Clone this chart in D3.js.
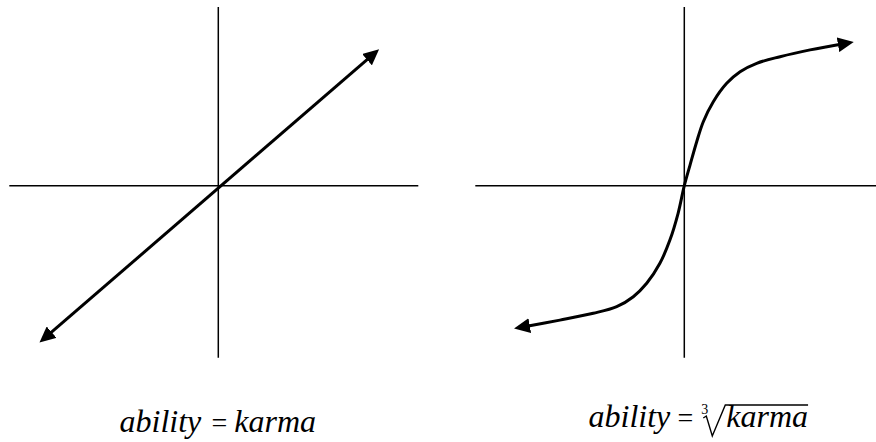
<!DOCTYPE html>
<html>
<head>
<meta charset="utf-8">
<script src="https://cdn.jsdelivr.net/npm/d3@7"></script>
<style>
  body { margin: 0; background: #fff; }
</style>
</head>
<body>
<svg></svg>
<script>
const size = {w: 876, h: 442};
const svg = d3.select('svg').attr('width', size.w).attr('height', size.h);

// axis extents, in plot units (20px per unit)
const axisXExtent = [[-10.45, 10], [-10.45, 9.6]];
const axisYExtent = [-8.6, 8.93];

// left panel: ability = karma (ends of the arrowed line)
const linearPts = [[-8.6, -7.55], [7.7, 6.53]];

// right panel: ability = cube root of karma
const cubePts = [
  [-8.07, -7.06], [-6.22, -6.72], [-4.55, -6.38], [-3.38, -6.05], [-2.55, -5.55],
  [-1.88, -4.88], [-1.22, -3.88], [-0.72, -2.72], [-0.31, -1.38], [0, 0],
  [0.29, 1.04], [0.62, 2.2], [0.95, 3.2], [1.45, 4.2], [2.12, 5.12],
  [2.79, 5.7], [3.62, 6.12], [4.79, 6.45], [6.29, 6.79], [8.03, 7.11]
];

const labels = [
  {lhs: 'ability', rhs: 'karma', root: null},
  {lhs: 'ability', rhs: 'karma', root: '3'}
];

const origins = [218.3, 684.3];
const originY = 185.7;
const unit = 20;
const serif = '"Liberation Serif", "Times New Roman", serif';

const y = d3.scaleLinear().domain([-10, 10]).range([originY + 10 * unit, originY - 10 * unit]);
const xs = origins.map(o => d3.scaleLinear().domain([-10, 10]).range([o - 10 * unit, o + 10 * unit]));

// arrow marker
svg.append('defs').append('marker')
    .attr('id', 'arrow')
    .attr('markerUnits', 'userSpaceOnUse')
    .attr('viewBox', '0 0 16 15')
    .attr('markerWidth', 16)
    .attr('markerHeight', 15)
    .attr('refX', 7)
    .attr('refY', 7.5)
    .attr('orient', 'auto-start-reverse')
  .append('path')
    .attr('d', 'M0,0 L16,7.5 L0,15 Z')
    .attr('fill', '#000');

xs.forEach((x, i) => {
    const g = svg.append('g');
    // axes
    g.append('line')
        .attr('x1', x(axisXExtent[i][0])).attr('x2', x(axisXExtent[i][1]))
        .attr('y1', y(0)).attr('y2', y(0))
        .attr('stroke', '#000').attr('stroke-width', 1.5);
    g.append('line')
        .attr('x1', x(0)).attr('x2', x(0))
        .attr('y1', y(axisYExtent[0])).attr('y2', y(axisYExtent[1]))
        .attr('stroke', '#000').attr('stroke-width', 1.5);

    const line = d3.line()
        .x(d => x(d[0]))
        .y(d => y(d[1]))
        .curve(i === 0 ? d3.curveLinear : d3.curveCatmullRom.alpha(0.5));

    g.append('path')
        .datum(i === 0 ? linearPts : cubePts)
        .attr('d', line)
        .attr('fill', 'none')
        .attr('stroke', '#000')
        .attr('stroke-width', 3)
        .attr('marker-start', 'url(#arrow)')
        .attr('marker-end', 'url(#arrow)');

    // equation label, "=" sits under the vertical axis
    const lab = labels[i];
    const cx = x(0) + 1;
    const base = lab.root ? 427 : 432;
    const t = g.append('g')
        .attr('font-family', serif)
        .attr('font-style', 'italic')
        .attr('font-size', 32)
        .attr('fill', '#000');
    t.append('text').attr('x', lab.root ? cx - 15 : cx - 18).attr('y', base)
        .attr('text-anchor', 'end').text(lab.lhs);
    t.append('text').attr('x', cx).attr('y', base).attr('text-anchor', 'middle')
        .attr('font-style', 'normal').attr('font-size', 28).text('=');
    if (lab.root) {
        t.append('text').attr('x', cx + 16).attr('y', base - 13)
            .attr('font-size', 14).attr('font-style', 'normal').text(lab.root);
        const k = t.append('text').attr('x', cx + 41).attr('y', base).text(lab.rhs);
        const w = k.node().getComputedTextLength();
        g.append('path')
            .attr('d', `M${cx + 18},${base - 9} L${cx + 21},${base - 11} L${cx + 27},${base + 9} L${cx + 40},${base - 22} L${cx + 41 + w},${base - 22}`)
            .attr('fill', 'none').attr('stroke', '#000').attr('stroke-width', 1.4)
            .attr('stroke-linejoin', 'miter');
    } else {
        t.append('text').attr('x', cx + 15).attr('y', base).text(lab.rhs);
    }
});
</script>
</body>
</html>
